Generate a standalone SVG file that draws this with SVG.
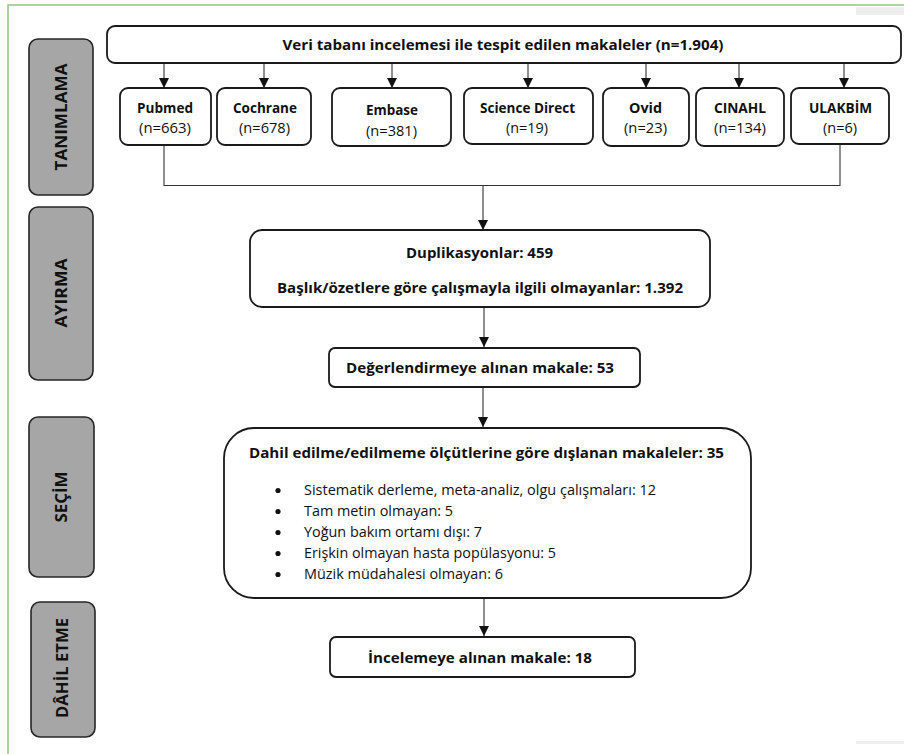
<svg xmlns="http://www.w3.org/2000/svg" width="904" height="754" viewBox="0 0 904 754">
  <defs>
    <marker id="arrow" markerUnits="userSpaceOnUse" markerWidth="10" markerHeight="11" refX="10" refY="5" orient="auto">
      <path d="M0,0 L10,5 L0,10 z" fill="#111"/>
    </marker>
    <style>
      .frame { stroke: #93c47d; stroke-width: 1.5; fill: none; }
      .strip { fill: #eeeeee; }
      .phase { fill: #a6a6a6; stroke: #262626; stroke-width: 1.6; }
      .phase-label { font-family: "Open Sans", "Noto Sans", sans-serif; font-weight: bold; font-size: 16.5px; fill: #111; text-anchor: middle; }
      .box { fill: #ffffff; stroke: #1a1a1a; stroke-width: 1.8; }
      .t { font-family: "Open Sans", "Noto Sans", sans-serif; font-size: 14.5px; fill: #111; text-anchor: middle; }
      .b { font-weight: bold; }
      .item { font-family: "Open Sans", "Noto Sans", sans-serif; font-size: 14.5px; fill: #111; }
      .link { stroke: #333; stroke-width: 1.1; fill: none; }
    </style>
  </defs>

  <rect width="904" height="754" fill="#ffffff"/>

  <!-- page frame -->
  <path class="frame" d="M8,754 L8,5 L904,5"/>
  <rect class="strip" x="856" y="7" width="48" height="8"/>
  <rect class="strip" x="856" y="741" width="48" height="3"/>

  <!-- phase labels -->
  <g id="phase-tanimlama">
    <rect class="phase" x="29" y="39" width="64" height="156" rx="9"/>
    <text class="phase-label" transform="translate(67,117) rotate(-90)" textLength="107" lengthAdjust="spacingAndGlyphs">TANIMLAMA</text>
  </g>
  <g id="phase-ayirma">
    <rect class="phase" x="29" y="207" width="64" height="173" rx="9"/>
    <text class="phase-label" transform="translate(67,293) rotate(-90)" textLength="69" lengthAdjust="spacingAndGlyphs">AYIRMA</text>
  </g>
  <g id="phase-secim">
    <rect class="phase" x="29" y="417" width="65" height="160" rx="9"/>
    <text class="phase-label" transform="translate(67,497) rotate(-90)" textLength="51" lengthAdjust="spacingAndGlyphs">SEÇİM</text>
  </g>
  <g id="phase-dahil">
    <rect class="phase" x="31" y="602" width="64" height="135" rx="9"/>
    <text class="phase-label" transform="translate(68,668) rotate(-90)" textLength="100" lengthAdjust="spacingAndGlyphs">DÂHİL ETME</text>
  </g>

  <!-- connectors -->
  <g id="connectors">
    <line class="link" x1="164" y1="63" x2="164" y2="88" marker-end="url(#arrow)"/>
    <line class="link" x1="264" y1="63" x2="264" y2="88" marker-end="url(#arrow)"/>
    <line class="link" x1="392" y1="63" x2="392" y2="88" marker-end="url(#arrow)"/>
    <line class="link" x1="528" y1="63" x2="528" y2="88" marker-end="url(#arrow)"/>
    <line class="link" x1="646" y1="63" x2="646" y2="88" marker-end="url(#arrow)"/>
    <line class="link" x1="739" y1="63" x2="739" y2="88" marker-end="url(#arrow)"/>
    <line class="link" x1="844" y1="63" x2="844" y2="88" marker-end="url(#arrow)"/>
    <path class="link" d="M164,145 L164,185.5 L840,185.5 L840,144"/>
    <line class="link" x1="483" y1="185.5" x2="483" y2="230" marker-end="url(#arrow)"/>
    <line class="link" x1="484" y1="307" x2="484" y2="347" marker-end="url(#arrow)"/>
    <line class="link" x1="483" y1="387" x2="483" y2="427" marker-end="url(#arrow)"/>
    <line class="link" x1="484" y1="598" x2="484" y2="636" marker-end="url(#arrow)"/>
  </g>

  <!-- identification -->
  <g id="node-total">
    <rect class="box" x="107" y="26" width="794" height="37" rx="8"/>
    <text class="t b" x="503" y="49.5" textLength="441" lengthAdjust="spacingAndGlyphs">Veri tabanı incelemesi ile tespit edilen makaleler (n=1.904)</text>
  </g>
  <g id="node-pubmed">
    <rect class="box" x="120" y="88" width="91" height="57" rx="8"/>
    <text class="t b" x="165" y="113" textLength="56" lengthAdjust="spacingAndGlyphs">Pubmed</text>
    <text class="t" x="165" y="133" textLength="52" lengthAdjust="spacingAndGlyphs">(n=663)</text>
  </g>
  <g id="node-cochrane">
    <rect class="box" x="217" y="88" width="94" height="57" rx="8"/>
    <text class="t b" x="265" y="113" textLength="64" lengthAdjust="spacingAndGlyphs">Cochrane</text>
    <text class="t" x="264.5" y="133" textLength="51" lengthAdjust="spacingAndGlyphs">(n=678)</text>
  </g>
  <g id="node-embase">
    <rect class="box" x="332" y="88" width="119" height="58" rx="8"/>
    <text class="t b" x="392" y="115" textLength="52" lengthAdjust="spacingAndGlyphs">Embase</text>
    <text class="t" x="391.5" y="136" textLength="51" lengthAdjust="spacingAndGlyphs">(n=381)</text>
  </g>
  <g id="node-sciencedirect">
    <rect class="box" x="464" y="88" width="129" height="56" rx="8"/>
    <text class="t b" x="527.5" y="113" textLength="95" lengthAdjust="spacingAndGlyphs">Science Direct</text>
    <text class="t" x="527" y="133" textLength="42" lengthAdjust="spacingAndGlyphs">(n=19)</text>
  </g>
  <g id="node-ovid">
    <rect class="box" x="603" y="88" width="86" height="58" rx="8"/>
    <text class="t b" x="645.5" y="113" textLength="33" lengthAdjust="spacingAndGlyphs">Ovid</text>
    <text class="t" x="645.5" y="133" textLength="43" lengthAdjust="spacingAndGlyphs">(n=23)</text>
  </g>
  <g id="node-cinahl">
    <rect class="box" x="696" y="88" width="88" height="58" rx="8"/>
    <text class="t b" x="740" y="113" textLength="52" lengthAdjust="spacingAndGlyphs">CINAHL</text>
    <text class="t" x="740" y="133" textLength="52" lengthAdjust="spacingAndGlyphs">(n=134)</text>
  </g>
  <g id="node-ulakbim">
    <rect class="box" x="791" y="88" width="98" height="56" rx="8"/>
    <text class="t b" x="840.5" y="113" textLength="63" lengthAdjust="spacingAndGlyphs">ULAKBİM</text>
    <text class="t" x="840" y="133" textLength="34" lengthAdjust="spacingAndGlyphs">(n=6)</text>
  </g>

  <!-- screening -->
  <g id="node-duplicates">
    <rect class="box" x="250" y="230" width="460" height="77" rx="12"/>
    <text class="t b" x="479.5" y="258" textLength="147" lengthAdjust="spacingAndGlyphs">Duplikasyonlar: 459</text>
    <text class="t b" x="480" y="293" textLength="406" lengthAdjust="spacingAndGlyphs">Başlık/özetlere göre çalışmayla ilgili olmayanlar: 1.392</text>
  </g>
  <g id="node-assessed">
    <rect class="box" x="329" y="348" width="311" height="39" rx="6"/>
    <text class="t b" x="480" y="373" textLength="268" lengthAdjust="spacingAndGlyphs">Değerlendirmeye alınan makale: 53</text>
  </g>

  <!-- eligibility -->
  <g id="node-excluded">
    <rect class="box" x="224" y="428" width="527" height="170" rx="30"/>
    <text class="t b" x="486.5" y="458" textLength="475" lengthAdjust="spacingAndGlyphs">Dahil edilme/edilmeme ölçütlerine göre dışlanan makaleler: 35</text>
    <g fill="#111">
      <circle cx="278" cy="490.5" r="2.6"/>
      <circle cx="278" cy="511.5" r="2.6"/>
      <circle cx="278" cy="532.5" r="2.6"/>
      <circle cx="278" cy="553.5" r="2.6"/>
      <circle cx="278" cy="574.5" r="2.6"/>
    </g>
    <text class="item" x="304" y="495" textLength="352" lengthAdjust="spacingAndGlyphs">Sistematik derleme, meta-analiz, olgu çalışmaları: 12</text>
    <text class="item" x="304" y="516" textLength="149" lengthAdjust="spacingAndGlyphs">Tam metin olmayan: 5</text>
    <text class="item" x="304" y="537" textLength="178" lengthAdjust="spacingAndGlyphs">Yoğun bakım ortamı dışı: 7</text>
    <text class="item" x="304" y="558" textLength="252" lengthAdjust="spacingAndGlyphs">Erişkin olmayan hasta popülasyonu: 5</text>
    <text class="item" x="304" y="579" textLength="199" lengthAdjust="spacingAndGlyphs">Müzik müdahalesi olmayan: 6</text>
  </g>

  <!-- included -->
  <g id="node-included">
    <rect class="box" x="330" y="637" width="305" height="40" rx="6"/>
    <text class="t b" x="480" y="663" textLength="224" lengthAdjust="spacingAndGlyphs">İncelemeye alınan makale: 18</text>
  </g>
</svg>
